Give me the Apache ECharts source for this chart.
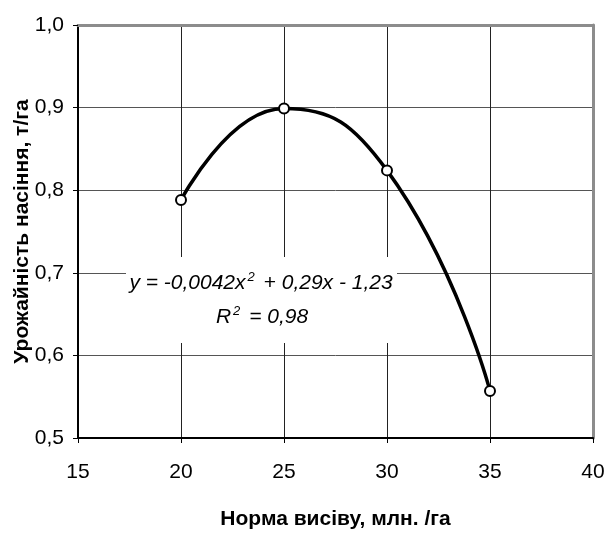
<!DOCTYPE html>
<html>
<head>
<meta charset="utf-8">
<script src="https://cdn.jsdelivr.net/npm/echarts@6/dist/echarts.min.js"></script>
<style>
    html, body {margin: 0; padding: 0; background: #fff;}
    #chart {width: 608px; height: 534px;}
</style>
</head>
<body>
<div id="chart"></div>
<script>
let xValues = [20, 25, 30, 35];
let yieldValues = [0.788, 0.899, 0.824, 0.557];
let xTicks = [15, 20, 25, 30, 35, 40];
let yTicks = [0.5, 0.6, 0.7, 0.8, 0.9, 1.0];
let equationText = ['y = -0,0042x', '2', ' + 0,29x - 1,23'];
let r2Text = ['R', '2', ' = 0,98'];

let fontFamily = '"Liberation Sans", Arial, sans-serif';

function buildPoints() {
    let points = [];
    for (let i = 0; i < xValues.length; i++) {
        points.push([xValues[i], yieldValues[i]]);
    }
    return points;
}

function makeChart(element) {
    let chart = echarts.init(element);

    let option = {
        animation: false,
        backgroundColor: '#ffffff',
        grid: {
            left: 78,
            right: 15,
            top: 25,
            bottom: 96,
            containLabel: false,
            outerBoundsMode: 'none'
        },
        xAxis: [
            {
                type: 'value',
                min: xTicks[0],
                max: xTicks[xTicks.length - 1],
                interval: 5,
                name: 'Норма висіву, млн. /га',
                nameLocation: 'middle',
                nameGap: 71,
                nameMoveOverlap: false,
                nameTextStyle: {
                    fontFamily: fontFamily,
                    fontWeight: 'bold',
                    fontSize: 21,
                    color: '#000'
                },
                axisLine: {lineStyle: {color: '#000', width: 2}},
                axisTick: {show: true, length: 5, lineStyle: {color: '#000'}},
                axisLabel: {
                    margin: 24,
                    fontFamily: fontFamily,
                    fontSize: 21,
                    color: '#000'
                },
                splitLine: {show: true, lineStyle: {color: '#222', width: 1}}
            },
            {
                type: 'value',
                position: 'top',
                min: xTicks[0],
                max: xTicks[xTicks.length - 1],
                interval: 5,
                axisLine: {show: true, lineStyle: {color: '#8c8c8c', width: 3}},
                axisTick: {show: false},
                axisLabel: {show: false},
                splitLine: {show: false}
            }
        ],
        yAxis: [
            {
                type: 'value',
                min: yTicks[0],
                max: yTicks[yTicks.length - 1],
                interval: 0.1,
                name: 'Урожайність насіння, т/га',
                nameLocation: 'middle',
                nameRotate: 90,
                nameGap: 45,
                nameMoveOverlap: false,
                nameTextStyle: {
                    fontFamily: fontFamily,
                    fontWeight: 'bold',
                    fontSize: 21,
                    color: '#000'
                },
                axisLine: {show: true, lineStyle: {color: '#000', width: 2}},
                axisTick: {show: true, length: 5, lineStyle: {color: '#000'}},
                axisLabel: {
                    margin: 14,
                    fontFamily: fontFamily,
                    fontSize: 21,
                    color: '#000',
                    formatter: function (v) {
                        return v.toFixed(1).replace('.', ',');
                    }
                },
                splitLine: {show: true, lineStyle: {color: '#555', width: 1}}
            },
            {
                type: 'value',
                position: 'right',
                min: yTicks[0],
                max: yTicks[yTicks.length - 1],
                interval: 0.1,
                axisLine: {show: true, lineStyle: {color: '#8c8c8c', width: 3}},
                axisTick: {show: false},
                axisLabel: {show: false},
                splitLine: {show: false}
            }
        ],
        graphic: [
            {
                type: 'rect',
                shape: {x: 126, y: 257, width: 271, height: 86},
                style: {fill: '#ffffff'},
                z: 50
            },
            {
                type: 'text',
                x: 261,
                y: 283,
                z: 51,
                style: {
                    text: '{m|' + equationText[0] + '}{s|' + equationText[1] + '}{m|' + equationText[2] + '}',
                    align: 'center',
                    verticalAlign: 'middle',
                    rich: {
                        m: {fontFamily: fontFamily, fontStyle: 'italic', fontSize: 21, lineHeight: 24, fill: '#000'},
                        s: {fontFamily: fontFamily, fontStyle: 'italic', fontSize: 13, lineHeight: 24, verticalAlign: 'top', fill: '#000', padding: [0, 3, 0, 2]}
                    }
                }
            },
            {
                type: 'text',
                x: 262,
                y: 317,
                z: 51,
                style: {
                    text: '{m|' + r2Text[0] + '}{s|' + r2Text[1] + '}{m|' + r2Text[2] + '}',
                    align: 'center',
                    verticalAlign: 'middle',
                    rich: {
                        m: {fontFamily: fontFamily, fontStyle: 'italic', fontSize: 21, lineHeight: 24, fill: '#000'},
                        s: {fontFamily: fontFamily, fontStyle: 'italic', fontSize: 13, lineHeight: 24, verticalAlign: 'top', fill: '#000', padding: [0, 3, 0, 2]}
                    }
                }
            }
        ],
        series: [
            {
                name: 'Урожайність',
                type: 'line',
                data: buildPoints(),
                smooth: 0.5,
                symbol: 'emptyCircle',
                symbolSize: 10,
                z: 60,
                lineStyle: {color: '#000', width: 3.5},
                itemStyle: {color: '#000', borderColor: '#000', borderWidth: 2}
            }
        ]
    };

    chart.setOption(option);
}

makeChart(document.getElementById('chart'));
</script>
</body>
</html>
